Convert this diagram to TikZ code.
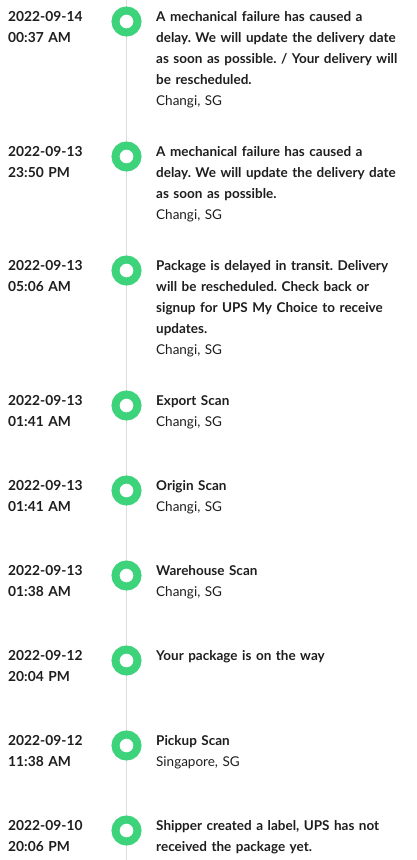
\documentclass[tikz,border=0pt]{standalone}
\usepackage{fontspec}
\setmainfont{Lato}
\usepackage{tikz}
\frenchspacing

\definecolor{ringgreen}{RGB}{61,211,123}
\definecolor{trackgray}{RGB}{221,221,221}
\definecolor{inkdark}{RGB}{30,30,30}

\tikzset{
  dot/.style={circle,draw=ringgreen,line width=8pt,fill=white,minimum size=22pt,inner sep=0pt},
  stamp/.style={anchor=base west,inner sep=0pt,align=left,text width=130pt,text=inkdark,
    font=\fontsize{13.8}{21}\selectfont},
  event/.style={anchor=base west,inner sep=0pt,align=left,text width=255pt,text=inkdark,
    font=\fontsize{13.5}{21}\selectfont},
  track/.style={draw=trackgray,line width=1.2pt}
}

\begin{document}
\begin{tikzpicture}[x=1pt,y=-1pt]

\useasboundingbox (0,0) rectangle (417,860);

\coordinate (top) at (126.5,0);
\coordinate (bottom) at (126.5,860);
\draw [track] (top) -- (bottom);

% 2022-09-14
\node [dot] (dot1) at (126.5,21.5) {};
\node [stamp] (when1) at (8,21) {\bfseries 2022-09-14\\00:37 AM};
\node [event] (what1) at (156,21) {{\bfseries A mechanical failure has caused a\\delay. We will update the delivery date\\as soon as possible. / Your delivery will\\be rescheduled.}\\Changi, SG};

% 2022-09-13
\node [dot] (dot2) at (126.5,156.5) {};
\node [stamp] (when2) at (8,156) {\bfseries 2022-09-13\\23:50 PM};
\node [event] (what2) at (156,156) {{\bfseries A mechanical failure has caused a\\delay. We will update the delivery date\\as soon as possible.}\\Changi, SG};

\node [dot] (dot3) at (126.5,270.5) {};
\node [stamp] (when3) at (8,270) {\bfseries 2022-09-13\\05:06 AM};
\node [event] (what3) at (156,270) {{\bfseries Package is delayed in transit. Delivery\\will be rescheduled. Check back or\\signup for UPS My Choice to receive\\updates.}\\Changi, SG};

\node [dot] (dot4) at (126.5,405.5) {};
\node [stamp] (when4) at (8,405) {\bfseries 2022-09-13\\01:41 AM};
\node [event] (what4) at (156,405) {{\bfseries Export Scan}\\Changi, SG};

\node [dot] (dot5) at (126.5,490.5) {};
\node [stamp] (when5) at (8,490) {\bfseries 2022-09-13\\01:41 AM};
\node [event] (what5) at (156,490) {{\bfseries Origin Scan}\\Changi, SG};

\node [dot] (dot6) at (126.5,575.5) {};
\node [stamp] (when6) at (8,575) {\bfseries 2022-09-13\\01:38 AM};
\node [event] (what6) at (156,575) {{\bfseries Warehouse Scan}\\Changi, SG};

% 2022-09-12
\node [dot] (dot7) at (126.5,660.5) {};
\node [stamp] (when7) at (8,660) {\bfseries 2022-09-12\\20:04 PM};
\node [event] (what7) at (156,660) {\bfseries Your package is on the way};

\node [dot] (dot8) at (126.5,745.5) {};
\node [stamp] (when8) at (8,745) {\bfseries 2022-09-12\\11:38 AM};
\node [event] (what8) at (156,745) {{\bfseries Pickup Scan}\\Singapore, SG};

% 2022-09-10
\node [dot] (dot9) at (126.5,830.5) {};
\node [stamp] (when9) at (8,830) {\bfseries 2022-09-10\\20:06 PM};
\node [event] (what9) at (156,830) {\bfseries Shipper created a label, UPS has not\\received the package yet.};

\end{tikzpicture}
\end{document}
